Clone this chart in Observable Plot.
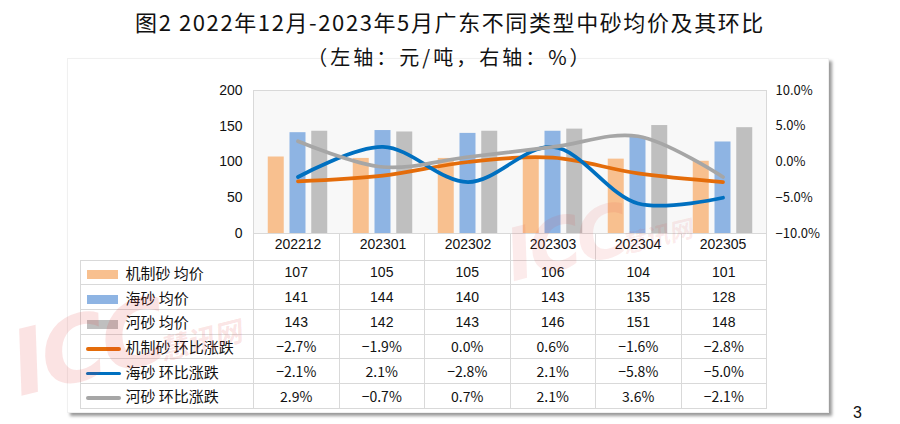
<!DOCTYPE html>
<html><head><meta charset="utf-8">
<script src="https://cdn.jsdelivr.net/npm/d3@7"></script>
<script src="https://cdn.jsdelivr.net/npm/@observablehq/plot@0.6"></script>
<style>
html,body{margin:0;padding:0;background:#fff;}
#wrap{position:relative;width:900px;height:424px;overflow:hidden;font-family:"Noto Sans CJK SC",sans-serif;color:#111;}
#box{position:absolute;left:67px;top:58px;width:760px;height:353px;border:1px solid #f0f0f0;box-shadow:3px 3px 3px rgba(0,0,0,0.4);background:#fff;}
#title{position:absolute;left:0;top:5px;width:900px;text-align:center;font-size:22px;letter-spacing:1.6px;}
#subtitle{position:absolute;left:0;top:42px;width:900px;text-align:center;font-size:20px;letter-spacing:3px;}
#chart{position:absolute;left:0;top:0;}
#tbl{position:absolute;left:79.5px;top:233px;border-collapse:collapse;table-layout:fixed;}
#tbl td{border:1px solid #d9d9d9;padding:0;text-align:center;font-size:14px;font-family:"Liberation Sans",Arial,sans-serif;box-sizing:border-box;}
#tbl tr.hdr td{height:27px;border-top:none;border-bottom:1px solid #d9d9d9;}
#tbl tr.hdr td.blank{border:none;border-bottom:1px solid #d9d9d9;}
#tbl tr.row td{height:24.7px;}
#tbl td.lab{text-align:left;font-family:"Noto Sans CJK SC",sans-serif;font-size:15px;white-space:nowrap;}
#tbl td.pct{font-family:"Noto Sans CJK SC",sans-serif;font-size:14px;}
.sw{display:inline-block;vertical-align:middle;margin-left:6px;margin-right:8px;}
#pg{position:absolute;left:853px;top:404px;font-size:16px;font-family:"Liberation Sans",Arial,sans-serif;}
.wm{position:absolute;pointer-events:none;color:rgba(225,60,60,0.14);font-family:"DejaVu Sans",sans-serif;font-weight:bold;white-space:nowrap;transform-origin:left bottom;letter-spacing:-4px;line-height:1;}
.wm span{font-family:"Noto Sans CJK SC",sans-serif;letter-spacing:0;}
</style></head>
<body>
<div id="wrap">
  <div id="box"></div>
  <div id="title">图2 2022年12月-2023年5月广东不同类型中砂均价及其环比</div>
  <div id="subtitle">（左轴：元/吨，右轴：%）</div>
  <div id="chart"></div>
  <table id="tbl"></table>
  <div class="wm" style="left:14px;top:322px;font-size:90px;transform:rotate(-14deg) skewX(-12deg);">ICC<span style="font-size:28px;">慧讯网</span></div>
  <div class="wm" style="left:508px;top:222px;font-size:72px;color:rgba(225,60,60,0.10);transform:rotate(-14deg) skewX(-12deg);">ICC<span style="font-size:24px;">慧讯网</span></div>
  <div id="pg">3</div>
</div>
<script>
const months = ["202212","202301","202302","202303","202304","202305"];
const jzsPrice = [107,105,105,106,104,101];   // 机制砂 均价
const hsPrice  = [141,144,140,143,135,128];   // 海砂 均价
const hesPrice = [143,142,143,146,151,148];   // 河砂 均价
const jzsMoM = [-2.7,-1.9,0.0,0.6,-1.6,-2.8]; // 机制砂 环比涨跌 %
const hsMoM  = [-2.1,2.1,-2.8,2.1,-5.8,-5.0]; // 海砂 环比涨跌 %
const hesMoM = [2.9,-0.7,0.7,2.1,3.6,-2.1];   // 河砂 环比涨跌 %
const leftTicks = [0,50,100,150,200];
const rightTicks = [-10,-5,0,5,10];

const barSeries = [
  {name:"机制砂 均价", values:jzsPrice, color:"#F8C08F", pos:0},
  {name:"海砂 均价", values:hsPrice, color:"#8EB4E3", pos:1},
  {name:"河砂 均价", values:hesPrice, color:"#BFBFBF", pos:2}
];
const lineSeries = [
  {name:"机制砂 环比涨跌", values:jzsMoM, color:"#E46C0A"},
  {name:"海砂 环比涨跌", values:hsMoM, color:"#0070C0"},
  {name:"河砂 环比涨跌", values:hesMoM, color:"#A6A6A6"}
];
// right axis (%) mapped onto left-axis units: -10% -> 0, 10% -> 200
const pctToLeft = p => (p + 10) * 10;
const fmtPct = p => (p < 0 ? "\u2212" : "") + Math.abs(p).toFixed(1) + "%";

const band = 85.5, barW = 16.5, off = 21.75;
const marks = [
  Plot.frame({fill:"#f8f8f8", stroke:"#d9d9d9"})
];
barSeries.forEach(s => {
  const center = (s.pos - 1) * off;
  const il = band/2 + center - barW/2;
  marks.push(Plot.barY(months.map((m,i)=>({m, v:s.values[i]})), {
    x:"m", y:"v", fill:s.color, insetLeft:il, insetRight:band - il - barW
  }));
});
lineSeries.forEach(s => {
  marks.push(Plot.line(months.map((m,i)=>({m, v:pctToLeft(s.values[i])})), {
    x:"m", y:"v", stroke:s.color, strokeWidth:3.75, curve:"catmull-rom", strokeLinecap:"round"
  }));
});
marks.push(Plot.ruleY([0], {stroke:"#d9d9d9"}));
marks.push(Plot.axisY({anchor:"left", ticks:leftTicks, tickSize:0, tickPadding:11, fontSize:14, label:null}));
marks.push(Plot.axisY({anchor:"right", ticks:rightTicks.map(pctToLeft), tickSize:0, tickPadding:9, fontSize:13,
  fontFamily:"Noto Sans CJK SC", tickFormat:d => fmtPct(d/10 - 10), label:null}));
marks.push(Plot.axisX({tickSize:0, tickPadding:6, fontSize:14, label:null}));

const chart = Plot.plot({
  width:900, height:424,
  marginLeft:253, marginRight:134, marginTop:90, marginBottom:191,
  x:{domain:months, padding:0, type:"band"},
  y:{domain:[0,200]},
  style:{fontFamily:"Liberation Sans, Arial, sans-serif", fontSize:"14px", color:"#111", background:"transparent", overflow:"visible"},
  marks
});
document.getElementById("chart").appendChild(chart);

// data table
const tbl = document.getElementById("tbl");
let html = '<colgroup><col style="width:173.5px">' + months.map(()=>'<col style="width:85.5px">').join("") + '</colgroup>';
html += '<tr class="hdr"><td class="blank"></td>' + months.map(()=>'<td></td>').join("") + '</tr>';
barSeries.forEach(s => {
  html += `<tr class="row"><td class="lab"><span class="sw" style="width:31px;height:9px;background:${s.color}"></span>${s.name}</td>` +
    s.values.map(v=>`<td>${v}</td>`).join("") + '</tr>';
});
lineSeries.forEach(s => {
  html += `<tr class="row"><td class="lab"><span class="sw" style="width:35px;height:3.5px;border-radius:2px;margin-left:5px;margin-right:5px;background:${s.color}"></span>${s.name}</td>` +
    s.values.map(v=>`<td class="pct">${fmtPct(v)}</td>`).join("") + '</tr>';
});
tbl.innerHTML = html;
</script>
</body></html>
